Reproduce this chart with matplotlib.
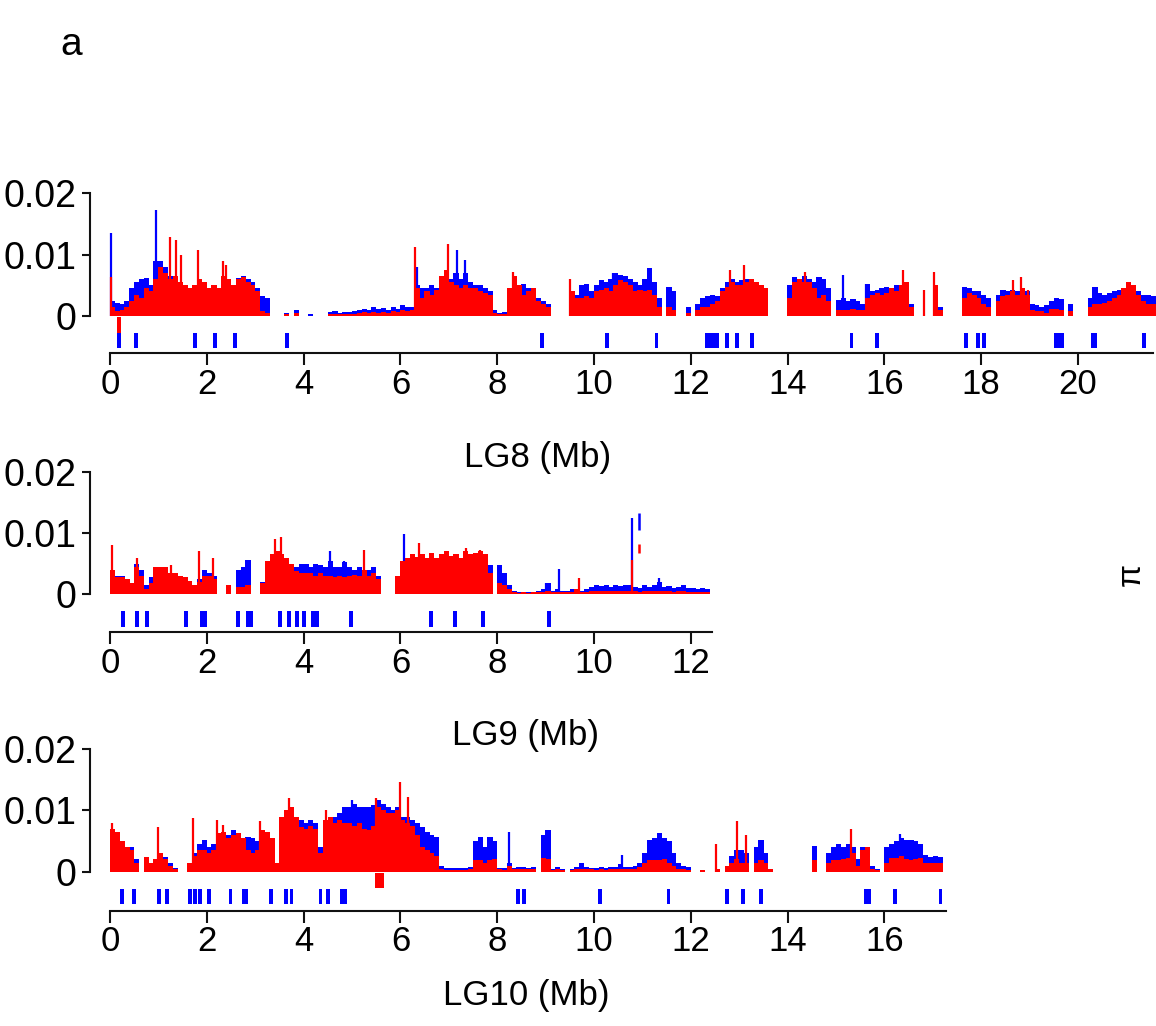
import numpy as np
import matplotlib
matplotlib.use('Agg')
import matplotlib.pyplot as plt

N = np.nan

# ---------------- data (pi values in units of 0.001, one value per 0.1 Mb bin) ----------------
lg8_blue = [
    2.5, 2.2, 2.0, 2.5, 4.5, 5.5, 6.0, 6.2, 5.0, 9.0,
    9.0, 8.0, 6.5, 5.5, 5.0, 4.5, 4.0, 4.2, 4.5, 4.0,
    3.8, 4.0, 3.5, 4.0, 4.5, 5.0, 6.2, 6.5, 6.0, 5.5,
    4.5, 3.2, 3.0, N, N, N, 0.5, N, 1.0, N,
    N, 0.4, N, N, N, 0.6, 0.8, 0.5, 0.7, 0.6,
    0.8, 1.0, 1.2, 0.9, 1.5, 1.1, 1.3, 1.0, 1.5, 1.2,
    1.8, 1.4, 1.5, 5.0, 4.5, 4.5, 5.0, 4.5, 5.5, 6.5,
    6.0, 7.0, 6.0, 7.0, 5.5, 5.0, 5.0, 4.5, 4.0, 1.0,
    0.5, 0.6, 3.0, 4.5, 4.0, 5.3, 4.5, 4.0, 3.0, 2.5,
    2.0, N, N, N, N, 3.0, 3.5, 5.0, 5.3, 4.0,
    5.0, 5.9, 5.5, 6.0, 7.0, 6.7, 6.5, 6.0, 5.5, 5.0,
    6.0, 7.8, 5.5, 3.0, N, 4.8, 4.0, N, N, 1.5,
    N, 2.0, 3.0, 3.2, 3.5, 3.2, 4.5, 5.5, 6.0, 5.5,
    5.9, 6.0, 5.5, 5.0, 4.5, 4.0, N, N, N, N,
    5.0, 6.4, 6.0, 6.5, 6.0, 5.5, 6.4, 6.0, 4.5, N,
    2.6, 3.0, 2.5, 2.8, 2.5, 2.0, 5.3, 4.0, 4.2, 4.5,
    4.8, 4.5, 5.0, 4.8, 4.5, 2.0, N, N, N, N,
    2.5, 1.5, N, N, N, N, 4.8, 4.5, 4.0, 4.0,
    3.5, 3.0, N, 3.5, 4.2, 4.0, 4.2, 4.0, 4.2, 4.0,
    2.0, 1.8, 1.5, 1.8, 2.5, 2.9, 2.8, N, 2.0, N,
    N, N, 3.0, 4.8, 3.7, 3.5, 3.7, 4.0, 4.2, 4.5,
    5.0, 4.5, 4.0, 3.5, 3.5, 3.2,
]
lg8_red = [
    1.5, 0.8, 1.0, 1.5, 2.5, 3.5, 3.0, 4.5, 4.0, 6.0,
    8.0, 7.0, 6.0, 6.5, 5.5, 5.0, 4.5, 5.0, 6.0, 5.5,
    4.5, 5.0, 4.5, 6.5, 6.0, 5.0, 6.0, 6.4, 5.5, 5.0,
    4.0, 0.8, 0.5, N, N, N, 0.3, N, 0.5, N,
    N, N, N, N, N, 0.3, 0.3, 0.3, 0.4, 0.3,
    0.4, 0.5, 0.6, 0.5, 0.7, 0.5, 0.6, 0.5, 0.8, 0.6,
    0.9, 0.8, 1.0, 4.5, 3.0, 4.0, 3.5, 4.2, 6.5, 7.5,
    5.5, 5.0, 4.5, 5.0, 4.5, 4.5, 4.0, 3.8, 3.5, 0.5,
    0.3, 0.3, 4.5, 6.5, 5.0, 3.5, 4.0, 4.5, 2.5, 2.0,
    1.5, N, N, N, N, 4.0, 3.0, 3.0, 3.2, 3.0,
    4.0, 4.2, 4.5, 4.0, 5.0, 5.9, 5.5, 5.0, 4.0, 4.2,
    4.0, 4.2, 3.5, 1.5, N, 1.5, 1.0, N, N, 0.5,
    N, 1.0, 1.5, 1.5, 2.0, 2.5, 4.0, 4.8, 5.5, 5.0,
    5.0, 5.5, 6.0, 5.5, 5.0, 4.5, N, N, N, N,
    3.0, 5.5, 6.0, 5.5, 5.5, 4.5, 3.0, 3.5, 2.5, N,
    1.0, 1.0, 1.0, 1.2, 1.0, 1.0, 3.0, 3.5, 3.7, 3.5,
    3.7, 4.5, 4.0, 5.0, 5.5, 1.5, N, N, N, N,
    5.0, 1.0, N, N, N, N, 3.0, 3.7, 3.5, 3.0,
    2.0, 1.5, N, 2.5, 3.2, 3.5, 4.0, 3.5, 4.5, 3.5,
    1.0, 0.8, 0.8, 0.5, 1.2, 1.2, 1.0, N, 0.8, N,
    N, N, 1.5, 2.0, 2.0, 2.2, 2.5, 3.0, 3.5, 4.5,
    5.5, 5.0, 3.5, 2.5, 2.0, 2.0,
]
lg8_blue_spike_pos = [0.02, 0.95, 6.35, 7.17, 7.33, 10.40, 11.15, 15.15, 15.63, 20.38]
lg8_blue_spike_val = [13.5, 17.3, 8.0, 10.8, 9.1, 7.0, 7.8, 6.7, 5.3, 4.8]
lg8_red_spike_pos = [0.02, 1.24, 1.36, 1.46, 1.82, 2.34, 2.40, 6.30, 6.99, 8.33, 9.50,
                     12.80, 13.10, 14.36, 16.39, 16.82, 17.02, 18.66, 18.83, 18.97]
lg8_red_spike_val = [6.4, 12.9, 12.4, 10.0, 10.8, 8.9, 8.3, 11.3, 11.8, 7.2, 6.1,
                     7.5, 8.3, 7.2, 7.5, 4.2, 7.2, 5.9, 6.4, 4.2]
lg8_marks = [0.19, 0.54, 1.76, 2.17, 2.58, 3.65, 8.92, 10.26, 11.29, 12.33, 12.40, 12.47,
             12.55, 12.74, 12.96, 13.27, 15.32, 15.84, 17.68, 17.93, 18.05, 19.55, 19.62,
             19.68, 20.30, 20.36, 21.36]
lg8_red_marks = [0.19]
lg8_red_mark_width = [0.08]

lg9_blue = [
    3.4, 3.0, 3.0, 2.5, 1.8, 5.0, 4.0, 1.5, 2.9, 3.5,
    4.0, 4.0, 3.5, 3.0, 2.8, 2.5, 2.0, 1.5, 2.5, 4.0,
    3.5, 3.0, N, N, 0.8, N, 4.0, 4.5, 5.6, N,
    N, 2.0, 3.0, 3.2, 3.5, 3.5, 4.0, 4.5, 4.5, 5.0,
    5.0, 4.5, 5.0, 4.8, 4.5, 5.5, 4.5, 4.5, 5.2, 4.5,
    4.0, 4.5, 4.0, 4.0, 4.5, 3.0, N, N, N, 1.0,
    1.5, 1.5, 1.5, 1.5, 1.5, 1.5, 1.8, 1.5, 1.5, 1.8,
    1.5, 1.5, 1.5, 1.8, 1.5, 1.5, 1.8, 1.5, 4.8, N,
    4.8, 3.5, 1.5, 0.5, 0.3, 0.4, 0.3, 0.4, 0.5, 0.8,
    1.8, 0.5, 0.8, 0.5, 0.6, 0.8, 0.8, 0.6, 0.8, 1.2,
    1.5, 1.3, 1.5, 1.2, 1.5, 1.3, 1.5, 1.5, 1.2, 1.0,
    1.5, 1.2, 1.5, 2.0, 1.2, 1.3, 1.0, 1.2, 1.5, 1.0,
    1.0, 0.8, 1.0, 0.8,
]
lg9_red = [
    4.0, 2.9, 2.9, 2.5, 1.8, 4.5, 3.0, 0.8, 1.8, 4.5,
    4.5, 4.5, 3.5, 3.4, 3.0, 2.8, 2.2, 1.5, 2.0, 3.0,
    3.0, 2.5, N, N, 1.5, N, 1.2, 1.2, 1.5, N,
    N, 1.8, 5.5, 6.5, 7.0, 6.5, 6.0, 5.0, 3.8, 3.5,
    3.4, 3.5, 3.0, 3.4, 3.0, 3.0, 2.9, 3.0, 2.9, 3.0,
    3.2, 3.0, 4.0, 3.0, 3.5, 2.5, N, N, N, 3.0,
    5.5, 6.0, 6.5, 6.1, 6.5, 6.0, 6.8, 6.0, 6.5, 7.0,
    6.2, 6.5, 6.0, 7.0, 6.5, 6.8, 7.0, 6.5, 3.5, N,
    1.8, 1.5, 0.8, 0.3, 0.2, 0.3, 0.2, 0.3, 0.3, 0.4,
    0.5, 0.3, 0.3, 0.3, 0.3, 0.4, 0.8, 0.4, 0.4, 0.5,
    0.6, 0.5, 0.6, 0.5, 0.5, 0.6, 0.5, 0.6, 0.5, 0.4,
    0.6, 0.5, 0.5, 0.6, 0.5, 0.5, 0.4, 0.5, 0.5, 0.4,
    0.4, 0.3, 0.4, 0.4,
]
lg9_blue_spike_pos = [4.55, 4.84, 6.07, 9.00, 9.27, 10.78, 11.35]
lg9_blue_spike_val = [7.0, 5.5, 9.9, 1.8, 4.2, 12.4, 2.6]
lg9_red_spike_pos = [0.05, 0.55, 1.27, 1.83, 2.13, 3.40, 3.54, 5.24, 6.38, 7.35, 7.65, 9.68, 10.78]
lg9_red_spike_val = [8.0, 5.9, 4.8, 7.0, 5.9, 9.1, 9.4, 7.2, 8.3, 7.5, 7.3, 2.6, 5.6]
lg9_blue_seg_pos = [10.92]
lg9_blue_seg_lo = [10.5]
lg9_blue_seg_hi = [13.2]
lg9_red_seg_pos = [10.93]
lg9_red_seg_lo = [6.8]
lg9_red_seg_hi = [8.2]
lg9_marks = [0.27, 0.56, 0.77, 1.57, 1.90, 1.96, 2.65, 2.85, 2.92, 3.51, 3.70, 3.87, 4.01,
             4.20, 4.27, 4.98, 6.63, 7.13, 7.70, 9.07]

lg10_blue = [
    3.0, 3.5, 3.5, 3.0, 4.1, 2.0, N, 1.5, 1.0, 2.0,
    2.5, 2.4, 1.5, 0.6, N, N, 1.5, 3.0, 4.5, 5.2,
    4.0, 4.5, 5.0, 5.5, 6.0, 6.8, 6.0, 5.5, 5.7, 5.5,
    5.0, 6.0, 5.5, 5.0, 1.5, 8.0, 7.5, 8.0, 7.5, 8.4,
    8.0, 8.4, 8.0, 4.0, 8.0, 8.5, 9.0, 9.5, 10.6, 10.5,
    11.0, 10.6, 10.6, 10.5, 10.8, 11.7, 11.0, 10.5, 10.0, 10.5,
    9.0, 9.0, 8.5, 8.0, 7.3, 6.5, 6.0, 5.7, 1.0, 0.6,
    0.6, 0.6, 0.6, 0.6, 0.8, 5.0, 5.7, 4.0, 5.7, 5.0,
    0.6, 0.6, 1.5, 0.6, 0.8, 0.8, 0.6, 0.8, N, 6.0,
    6.8, 0.5, 0.8, 0.5, N, 0.5, 0.8, 1.5, 0.8, 0.6,
    0.6, 0.7, 0.6, 0.8, 0.7, 1.2, 0.8, 0.8, 1.0, 1.5,
    3.0, 5.2, 5.5, 6.3, 5.5, 5.0, 3.0, 1.4, 1.0, 0.8,
    N, N, 0.3, N, N, N, N, 0.5, 2.5, 3.5,
    3.5, 3.0, N, 4.0, 5.2, 3.0, N, N, N, N,
    N, N, N, N, N, 4.2, N, N, 3.0, 4.0,
    4.6, 4.0, 4.6, 4.0, 2.0, 4.1, 4.1, 1.0, 0.5, N,
    4.0, 4.6, 5.0, 5.5, 5.2, 5.2, 5.0, 4.5, 2.8, 2.4,
    2.5, 2.4,
]
lg10_red = [
    7.0, 6.5, 5.0, 4.0, 3.5, 1.5, N, 2.4, 1.5, 2.0,
    3.0, 2.0, 1.0, 0.4, N, N, 1.5, 2.5, 3.5, 3.5,
    3.0, 3.5, 6.3, 6.5, 5.5, 6.0, 6.3, 5.5, 3.5, 3.0,
    3.5, 6.8, 6.5, 5.5, 1.5, 9.0, 10.0, 10.6, 9.0, 7.3,
    7.0, 7.5, 7.0, 3.0, 8.5, 9.0, 8.0, 8.5, 7.9, 8.0,
    7.5, 7.9, 7.0, 6.8, 7.5, 10.6, 10.0, 9.5, 9.5, 10.0,
    8.5, 7.9, 7.5, 6.0, 4.0, 3.5, 3.0, 2.5, 0.5, 0.3,
    0.3, 0.3, 0.3, 0.3, 0.5, 1.9, 1.9, 1.5, 1.9, 2.0,
    0.4, 0.3, 1.0, 0.4, 0.4, 0.5, 0.4, 0.4, N, 2.2,
    2.0, 0.3, 0.4, 0.3, N, 0.3, 0.4, 0.4, 0.4, 0.4,
    0.3, 0.4, 0.3, 0.4, 0.4, 0.4, 0.5, 0.5, 0.5, 0.8,
    1.5, 1.9, 1.9, 1.9, 2.0, 1.5, 1.0, 0.5, 0.4, 0.3,
    N, N, 0.3, N, N, 0.5, N, 1.0, 1.5, 2.0,
    1.4, 1.4, N, 1.5, 1.9, 1.5, 0.5, N, N, N,
    N, N, N, N, N, 1.9, N, N, 1.5, 1.9,
    1.9, 2.0, 2.2, 3.0, 1.0, 3.5, 4.1, 0.5, 0.3, N,
    1.5, 2.2, 2.2, 2.5, 2.0, 1.9, 2.0, 2.2, 1.5, 1.4,
    1.4, 1.4,
]
lg10_blue_spike_pos = [5.00, 8.25, 10.57, 16.33]
lg10_blue_spike_val = [11.7, 6.5, 2.7, 6.2]
lg10_red_spike_pos = [0.05, 1.00, 1.71, 2.22, 2.34, 3.10, 3.70, 4.47, 5.50, 6.00, 6.16,
                      12.52, 12.95, 13.15, 15.30]
lg10_red_spike_val = [7.9, 7.3, 8.7, 8.4, 7.6, 8.2, 12.0, 10.0, 12.0, 14.7, 12.2,
                      4.6, 8.2, 6.0, 7.0]
lg10_marks = [0.24, 0.50, 1.01, 1.18, 1.65, 1.76, 1.86, 2.05, 2.49, 2.76, 2.82, 3.32, 3.63,
              3.75, 4.35, 4.51, 4.79, 4.85, 8.43, 8.55, 10.12, 11.54, 12.75, 13.07, 13.45,
              15.61, 15.69, 16.22, 17.16]
lg10_red_marks = [5.57]
lg10_red_mark_width = [0.19]

y_ticks = [0, 0.01, 0.02]
y_tick_labels = ['0', '0.01', '0.02']

# ---------------- layout ----------------
FW, FH = 1156, 1026
fig = plt.figure(figsize=(FW / 100, FH / 100), dpi=100)
BLUE, RED = '#0000ff', '#ff0000'
PX_MB = 48.4
PX_UNIT = 6130.0
X0 = 110.0
SPX = 90.0
BIN = 0.1
UNIT = 1e-3
LEFT_MB = -(X0 - SPX) / PX_MB
FONT = 'Liberation Sans'

panels = [
    dict(label='LG8 (Mb)', blue=lg8_blue, red=lg8_red,
         bsp=(lg8_blue_spike_pos, lg8_blue_spike_val), rsp=(lg8_red_spike_pos, lg8_red_spike_val),
         marks=lg8_marks, rmarks=(lg8_red_marks, lg8_red_mark_width), segs=None,
         zero=316.0, axis=353.3, end=21.55, xmax=21.62, ticks=list(range(0, 21, 2)),
         lab=(538, 457)),
    dict(label='LG9 (Mb)', blue=lg9_blue, red=lg9_red,
         bsp=(lg9_blue_spike_pos, lg9_blue_spike_val), rsp=(lg9_red_spike_pos, lg9_red_spike_val),
         marks=lg9_marks, rmarks=None,
         segs=((lg9_blue_seg_pos, lg9_blue_seg_lo, lg9_blue_seg_hi),
               (lg9_red_seg_pos, lg9_red_seg_lo, lg9_red_seg_hi)),
         zero=594.3, axis=632.3, end=12.43, xmax=12.45, ticks=list(range(0, 13, 2)),
         lab=(526, 735)),
    dict(label='LG10 (Mb)', blue=lg10_blue, red=lg10_red,
         bsp=(lg10_blue_spike_pos, lg10_blue_spike_val), rsp=(lg10_red_spike_pos, lg10_red_spike_val),
         marks=lg10_marks, rmarks=(lg10_red_marks, lg10_red_mark_width), segs=None,
         zero=871.7, axis=910.7, end=17.27, xmax=17.3, ticks=list(range(0, 17, 2)),
         lab=(526, 995)),
]

YMAX = 0.021
MARK_LO, MARK_HI = -0.0053, -0.0028
RMARK_LO, RMARK_HI = -0.0027, -0.0002

for p in panels:
    ymin = -(p['axis'] - p['zero']) / PX_UNIT
    top = p['zero'] - YMAX * PX_UNIT
    wpx = (p['xmax'] - LEFT_MB) * PX_MB
    ax = fig.add_axes([SPX / FW, 1 - p['axis'] / FH, wpx / FW, (p['axis'] - top) / FH])
    ax.set_xlim(LEFT_MB, p['xmax'])
    ax.set_ylim(ymin, YMAX)

    b = np.array(p['blue'], dtype=float) * UNIT
    r = np.array(p['red'], dtype=float) * UNIT
    xb = np.arange(len(b)) * BIN + BIN / 2
    xr = np.arange(len(r)) * BIN + BIN / 2
    ax.bar(xb, b, width=BIN * 1.06, color=BLUE, linewidth=0, zorder=2)
    ax.vlines(p['bsp'][0], 0, np.array(p['bsp'][1]) * UNIT, color=BLUE, lw=1.6, zorder=2)
    if p['segs']:
        bs, rs = p['segs']
        ax.vlines(bs[0], np.array(bs[1]) * UNIT, np.array(bs[2]) * UNIT, color=BLUE, lw=1.8, zorder=2)
        ax.vlines(rs[0], np.array(rs[1]) * UNIT, np.array(rs[2]) * UNIT, color=RED, lw=1.8, zorder=3)
    ax.bar(xr, r, width=BIN * 1.06, color=RED, linewidth=0, zorder=3)
    ax.vlines(p['rsp'][0], 0, np.array(p['rsp'][1]) * UNIT, color=RED, lw=1.6, zorder=3)

    ax.bar(p['marks'], MARK_HI - MARK_LO, bottom=MARK_LO, width=0.08, color=BLUE, linewidth=0)
    if p['rmarks']:
        ax.bar(p['rmarks'][0], RMARK_HI - RMARK_LO, bottom=RMARK_LO, width=p['rmarks'][1],
               color=RED, linewidth=0)

    for s in ['top', 'right']:
        ax.spines[s].set_visible(False)
    ax.spines['left'].set_bounds(0, 0.02)
    ax.spines['bottom'].set_bounds(0, p['end'])
    for s in ['left', 'bottom']:
        ax.spines[s].set_linewidth(1.5)
        ax.spines[s].set_color('#111111')
    ax.set_yticks(y_ticks)
    ax.set_yticklabels(y_tick_labels, fontsize=27, family=FONT)
    ax.set_xticks(p['ticks'])
    ax.set_xticklabels([str(t) for t in p['ticks']], fontsize=25, family=FONT)
    ax.tick_params(axis='y', length=6, width=1.5, pad=4, color='#111111')
    ax.tick_params(axis='x', length=8.5, width=1.5, pad=2, color='#111111')
    ax.set_facecolor('none')
    fig.text(p['lab'][0] / FW, 1 - p['lab'][1] / FH, p['label'], fontsize=25, family=FONT,
             ha='center', va='center')

fig.text(71 / FW, 1 - 45 / FH, 'a', fontsize=28, family=FONT, ha='center', va='center')
fig.text(1131 / FW, 1 - 575 / FH, 'π', fontsize=24, family=FONT, rotation=90,
         ha='center', va='center')

fig.savefig('out.png', dpi=100)
